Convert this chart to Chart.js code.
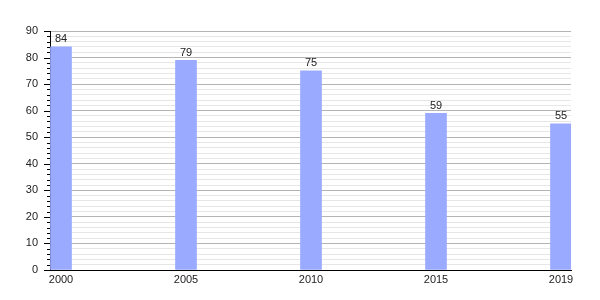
<!DOCTYPE html>
<html><head><meta charset="utf-8">
<script src="https://cdn.jsdelivr.net/npm/chart.js@4"></script>
<style>html,body{margin:0;padding:0;background:#fff}#w{width:600px;height:300px}</style>
</head><body><div id="w"><canvas id="c" width="600" height="300"></canvas></div>
<script>
const years = ['2000','2005','2010','2015','2019'];
const values = [84, 79, 75, 59, 55];
const yTicks = [0,10,20,30,40,50,60,70,80,90];

const labelPlugin = {
  id: 'labels',
  afterDatasetsDraw(chart) {
    const ctx = chart.ctx;
    const meta = chart.getDatasetMeta(0);
    ctx.save();
    ctx.font = '11px "Liberation Sans", Arial, sans-serif';
    ctx.fillStyle = '#222';
    ctx.textAlign = 'center';
    ctx.textBaseline = 'bottom';
    meta.data.forEach((el, i) => {
      ctx.fillText(String(values[i]), el.x, el.y - 2);
    });
    ctx.restore();
  },
  afterDraw(chart) {
    const ys = chart.scales.y;
    const ctx = chart.ctx;
    ctx.save();
    ctx.strokeStyle = '#000';
    ctx.lineWidth = 1;
    for (let v = 0; v <= 90; v += 2) {
      const p = Math.round(ys.getPixelForValue(v)) + 0.5;
      const len = (v % 10 === 0) ? 6 : 3;
      ctx.beginPath();
      ctx.moveTo(ys.right - len, p);
      ctx.lineTo(ys.right, p);
      ctx.stroke();
    }
    ctx.restore();
  }
};

new Chart(document.getElementById('c'), {
  type: 'bar',
  data: {
    datasets: [{
      data: values.map((v, i) => ({x: i, y: v})),
      backgroundColor: '#99aaff',
      borderWidth: 0,
      barThickness: 21
    }]
  },
  options: {
    responsive: false,
    animation: false,
    layout: {padding: {top: 31, right: 29, left: 0, bottom: 0}},
    plugins: {legend: {display: false}, tooltip: {enabled: false}},
    scales: {
      x: {
        type: 'linear',
        offset: false,
        min: -0.088,
        max: 4.08,
        afterBuildTicks(s) { s.ticks = years.map((_, i) => ({value: i})); },
        afterFit(s) { s.height = 30; },
        grid: {display: false, drawTicks: false, offset: false},
        border: {display: true, color: '#000', width: 1},
        ticks: {
          padding: 3,
          autoSkip: false,
          maxRotation: 0,
          color: '#222',
          font: {family: '"Liberation Sans", Arial, sans-serif', size: 11},
          callback: (v) => years[v] ?? ''
        }
      },
      y: {
        min: 0,
        max: 90,
        afterBuildTicks(s) {
          const t = [];
          for (let v = 0; v <= 90; v += 2) t.push({value: v});
          s.ticks = t;
        },
        afterFit(s) { s.width = 50; },
        grid: {
          drawTicks: false,
          color: (c) => (c.tick && c.tick.value % 10 === 0) ? '#b4b4b4' : '#e6e6e6'
        },
        border: {display: true, color: '#000', width: 1},
        ticks: {
          padding: 12,
          autoSkip: false,
          color: '#222',
          font: {family: '"Liberation Sans", Arial, sans-serif', size: 11},
          callback: (v) => yTicks.includes(v) ? String(v) : ''
        }
      }
    }
  },
  plugins: [labelPlugin]
});
</script>
</body></html>
